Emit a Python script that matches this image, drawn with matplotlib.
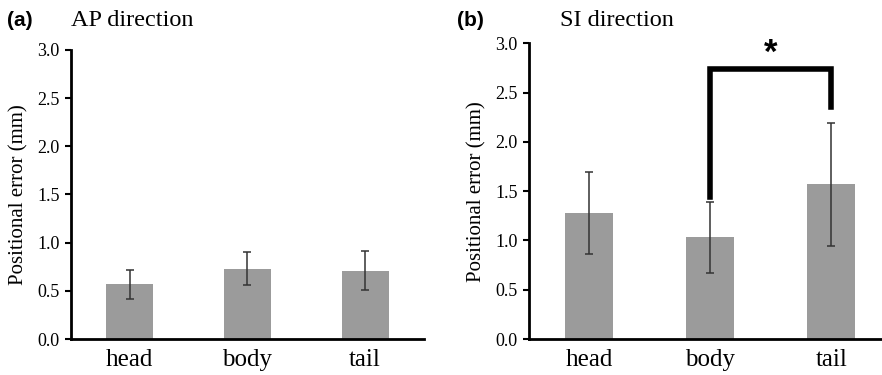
import matplotlib
matplotlib.use("Agg")
import matplotlib.pyplot as plt

# data
categories = ["head", "body", "tail"]
ap_mean = [0.57, 0.73, 0.71]
ap_err = [0.15, 0.17, 0.205]
si_mean = [1.275, 1.03, 1.57]
si_err = [0.415, 0.36, 0.625]
yticks = [0.0, 0.5, 1.0, 1.5, 2.0, 2.5, 3.0]

serif = ["Liberation Serif", "DejaVu Serif"]
sans = ["Liberation Sans", "DejaVu Sans"]
bar_col = "#9b9b9b"

fig = plt.figure(figsize=(8.82, 3.75), dpi=100)
ax1 = fig.add_axes([0.0802, 0.096, 0.4005, 0.771])
ax2 = fig.add_axes([0.5994, 0.096, 0.4116, 0.7885])

def panel(ax, means, errs):
    x = range(len(categories))
    ax.bar(x, means, width=0.4, color=bar_col, zorder=2)
    ax.errorbar(x, means, yerr=errs, fmt="none", ecolor="#333333",
                elinewidth=1.1, capsize=3, capthick=1.1, zorder=3)
    ax.set_xlim(-0.5, 2.5)
    ax.set_ylim(0, 3.0)
    ax.set_yticks(yticks)
    ax.set_yticklabels(["%.1f" % t for t in yticks], fontfamily=serif, fontsize=13)
    ax.set_xticks(list(x))
    ax.set_xticklabels(categories, fontfamily=serif, fontsize=18)
    ax.tick_params(axis="x", length=0, pad=7)
    ax.tick_params(axis="y", length=4, width=1.5, direction="out", pad=4)
    for s in ["top", "right"]:
        ax.spines[s].set_visible(False)
    ax.spines["left"].set_linewidth(2)
    ax.spines["bottom"].set_linewidth(2)
    ax.set_ylabel("Positional error (mm)", fontfamily=serif, fontsize=15, labelpad=6)

panel(ax1, ap_mean, ap_err)
panel(ax2, si_mean, si_err)

# significance bracket body vs tail
ax2.plot([1, 1, 2, 2], [1.44, 2.74, 2.74, 2.35], color="black", lw=4,
         solid_joinstyle="miter", clip_on=False, zorder=4)
ax2.text(1.5, 2.9, "*", ha="center", va="center", fontsize=25,
         fontweight="bold", fontfamily=sans)

fig.text(0.008, 0.945, "(a)", fontfamily=sans, fontweight="bold", fontsize=15,
         ha="left", va="center")
fig.text(0.081, 0.945, "AP direction", fontfamily=serif, fontsize=17.5,
         ha="left", va="center")
fig.text(0.518, 0.945, "(b)", fontfamily=sans, fontweight="bold", fontsize=15,
         ha="left", va="center")
fig.text(0.635, 0.945, "SI direction", fontfamily=serif, fontsize=17.5,
         ha="left", va="center")

fig.savefig("out.png", dpi=100)
